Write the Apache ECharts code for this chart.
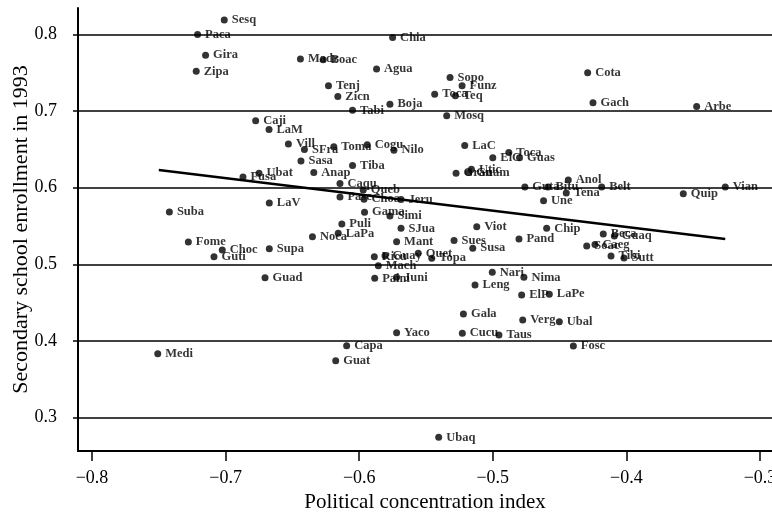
<!DOCTYPE html>
<html>
<head>
<meta charset="utf-8">
<title>Enrollment vs concentration</title>
<script src="https://cdn.jsdelivr.net/npm/echarts@6/dist/echarts.min.js"></script>
<style>
  html, body { margin: 0; padding: 0; background: #fff; }
  #chart { width: 772px; height: 517px; }
</style>
</head>
<body>
<div id="chart"></div>
<script>
// municipalities: political concentration index vs secondary enrollment 1993
var names = ['Sesq','Paca','Gira','Zipa','Madr','Boac','Chia','Agua','Sopo','Funz',
  'Tenj','Zicn','Tabi','Boja','Toca','Teq','Mosq','Cota','Gach','Arbe',
  'Caji','LaM','Vill','SFra','Toma','Sasa','Cogu','Nilo','Tiba','Anap',
  'Fusa','Ubat','LaC','ElC','Toca','Guas','Gran','Guam','Utic','Guta',
  'Bitu','Anol','Tena','Belt','Une','Quip','Vian','Caqu','Pasc','Queb',
  'Choa','Jeru','Gama','Simi','Puli','SJua','LaPa','Noca','Mant','Sues',
  'Susa','Viot','Pand','Quet','Topa','Ricu','Guay','Mach','Paim','Juni',
  'Nari','Nima','Leng','ElP','LaPe','Gala','Verg','Ubal','Yaco','Cucu',
  'Taus','Capa','Guat','Ubaq','Fosc','Medi','LaV','Suba','Fome','Choc',
  'Guti','Supa','Guad','Chip','Beca','Guaq','Soac','Caeg','Tibi','Sutt'];
var concentration = [-0.701,-0.721,-0.715,-0.722,-0.644,-0.627,-0.575,-0.587,-0.532,-0.523,
  -0.623,-0.616,-0.605,-0.577,-0.5435,-0.528,-0.5345,-0.429,-0.425,-0.3474,
  -0.6775,-0.6675,-0.653,-0.641,-0.619,-0.6436,-0.594,-0.574,-0.605,-0.634,
  -0.687,-0.675,-0.521,-0.500,-0.488,-0.480,-0.5275,-0.518,-0.516,-0.476,
  -0.4587,-0.4435,-0.445,-0.4185,-0.462,-0.3574,-0.326,-0.6144,-0.6144,-0.597,
  -0.5964,-0.5687,-0.596,-0.577,-0.613,-0.5687,-0.6157,-0.635,-0.572,-0.529,
  -0.515,-0.512,-0.4804,-0.5558,-0.5457,-0.5887,-0.5807,-0.5857,-0.5884,-0.572,
  -0.5004,-0.4767,-0.5133,-0.4784,-0.4577,-0.522,-0.4776,-0.4502,-0.572,-0.5228,
  -0.4954,-0.6094,-0.6176,-0.5405,-0.4397,-0.7508,-0.6673,-0.7421,-0.7279,-0.7025,
  -0.7087,-0.6673,-0.6705,-0.4597,-0.4173,-0.409,-0.4297,-0.4235,-0.4115,-0.4018];
var enrollment = [0.819,0.800,0.773,0.752,0.768,0.767,0.796,0.755,0.744,0.733,
  0.733,0.719,0.701,0.709,0.722,0.720,0.694,0.750,0.711,0.706,
  0.6875,0.676,0.657,0.650,0.6535,0.635,0.656,0.649,0.629,0.620,
  0.614,0.619,0.655,0.639,0.646,0.639,0.619,0.620,0.624,0.601,
  0.601,0.610,0.593,0.601,0.583,0.592,0.601,0.6055,0.588,0.597,
  0.585,0.5846,0.568,0.563,0.5526,0.547,0.5405,0.536,0.5295,0.531,
  0.521,0.549,0.533,0.5143,0.508,0.510,0.5112,0.4982,0.4817,0.483,
  0.4896,0.483,0.473,0.460,0.461,0.435,0.4273,0.425,0.4107,0.410,
  0.4077,0.3937,0.374,0.2742,0.3933,0.3833,0.580,0.5683,0.529,0.5187,
  0.510,0.5204,0.4825,0.547,0.5396,0.537,0.524,0.526,0.511,0.5082];
var xTicks = [-0.8, -0.7, -0.6, -0.5, -0.4, -0.3];
var yTicks = [0.3, 0.4, 0.5, 0.6, 0.7, 0.8];
// fitted regression line end points
var fitX = [-0.75, -0.326];
var fitY = [0.623, 0.533];

var serif = '"Liberation Serif", "DejaVu Serif", serif';
function tickText(v) {
  return v.toFixed(1).replace('-', '\u2212');
}

var points = names.map(function (n, i) {
  return { name: n, value: [concentration[i], enrollment[i]] };
});
var fit = fitX.map(function (x, i) { return [x, fitY[i]]; });

var chart = echarts.init(document.getElementById('chart'));
chart.setOption({
  backgroundColor: '#fff',
  animation: false,
  grid: { left: 78, right: 0, top: 8, bottom: 66, containLabel: false, outerBoundsMode: 'none' },
  xAxis: {
    type: 'value',
    min: -0.8105,
    max: -0.291,
    name: 'Political concentration index',
    nameLocation: 'middle',
    nameGap: 33,
    nameTextStyle: { fontFamily: serif, fontSize: 21, color: '#000' },
    axisLine: { lineStyle: { color: '#000', width: 2 } },
    axisTick: { show: true, customValues: xTicks, length: 10, lineStyle: { color: '#000', width: 1.5 } },
    axisLabel: { customValues: xTicks, formatter: tickText, margin: 18,
      fontFamily: serif, fontSize: 18, color: '#000' },
    splitLine: { show: false }
  },
  yAxis: {
    type: 'value',
    min: 0.2563,
    max: 0.8346,
    name: 'Secondary school enrollment in 1993',
    nameLocation: 'middle',
    nameGap: 46,
    nameMoveOverlap: false,
    nameTextStyle: { fontFamily: serif, fontSize: 22, color: '#000' },
    axisLine: { lineStyle: { color: '#000', width: 2 } },
    axisTick: { show: true, customValues: yTicks, length: 5, lineStyle: { color: '#000', width: 1.5 } },
    axisLabel: { customValues: yTicks, formatter: tickText, margin: 21,
      fontFamily: serif, fontSize: 18, color: '#000' },
    splitLine: { show: false }
  },
  series: [
    {
      type: 'line',
      data: fit,
      symbol: 'none',
      silent: true,
      lineStyle: { color: '#000', width: 2.5 },
      markLine: {
        silent: true,
        symbol: ['none', 'none'],
        label: { show: false },
        lineStyle: { color: '#000', width: 1.5, type: 'solid' },
        data: yTicks.map(function (v) { return { yAxis: v }; })
      }
    },
    {
      type: 'scatter',
      data: points,
      symbol: 'circle',
      symbolSize: 7,
      itemStyle: { color: '#000' },
      label: {
        show: true,
        position: 'right',
        distance: 4,
        offset: [0, 2],
        formatter: '{b}',
        fontFamily: serif,
        fontSize: 12.5,
        fontWeight: 'bold',
        color: '#000'
      },
      labelLayout: { hideOverlap: false }
    }
  ]
});
</script>
</body>
</html>
